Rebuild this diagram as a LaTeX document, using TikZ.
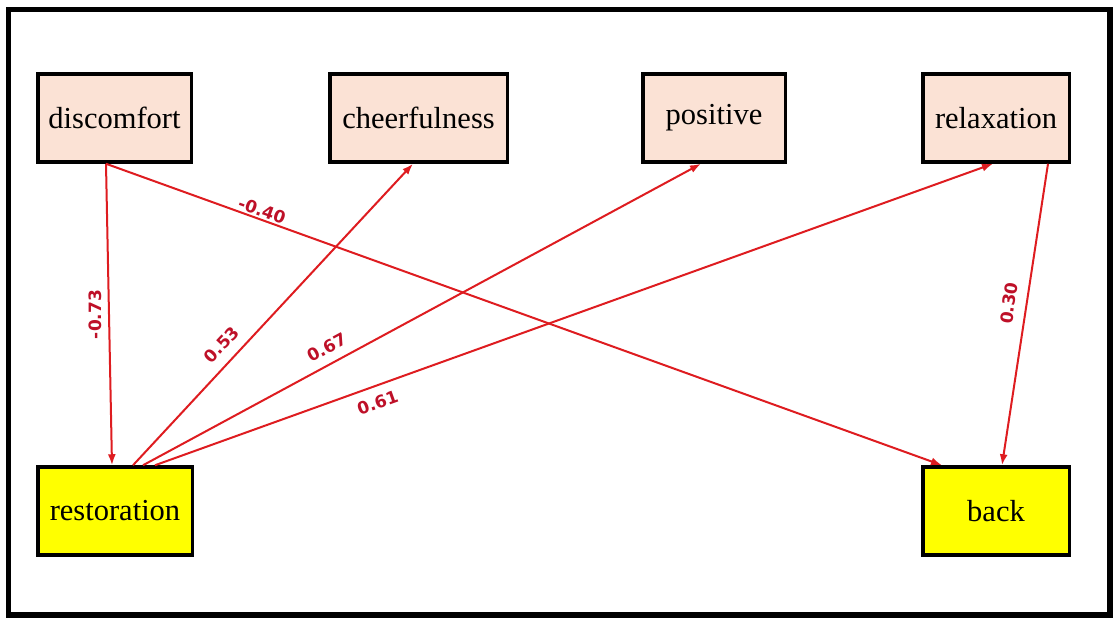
\documentclass[tikz,border=0pt]{standalone}
\usepackage{fontspec}
\setmainfont{Liberation Serif}
\newfontfamily\coeffont{DejaVu Sans}
\usetikzlibrary{arrows.meta}

\definecolor{peach}{RGB}{251,226,213}
\definecolor{hiyellow}{RGB}{255,255,0}
\definecolor{linkred}{RGB}{222,28,32}
\definecolor{coefred}{RGB}{190,16,40}

\begin{document}
\begin{tikzpicture}[x=1pt,y=-1pt,
  box/.style={draw=black, line width=3.5pt, inner sep=0pt, minimum height=88pt,
              font=\fontsize{30.5}{36}\selectfont},
  mood/.style={box, fill=peach},
  outcome/.style={box, fill=hiyellow},
  effect/.style={draw=linkred, line width=2pt, -{Latex[length=11pt,width=8pt]}},
  coef/.style={text=coefred, inner sep=1pt, font=\coeffont\bfseries\fontsize{17}{19}\selectfont}]

\useasboundingbox (0,0) rectangle (1117,619);

% outer frame
\draw[line width=5.5pt] (8.5,9.5) rectangle (1110,615);

% variables
\node[mood, minimum width=153.5pt] (disc)  at (114.5,118) {discomfort};
\node[mood, minimum width=177.5pt] (cheer) at (418.5,118) {cheerfulness};
\node[mood, minimum width=142.5pt] (posv)  at (714,118)   {positive};
\node[mood, minimum width=146.5pt] (relax) at (996,118)   {relaxation};
\node[outcome, minimum width=154.5pt] (rest) at (115,511) {restoration};
\node[outcome, minimum width=146.5pt] (back) at (996,511) {back};

% path coefficients
\draw[effect] ([xshift=-8.5pt]disc.south) --
  node[coef, pos=0.5, rotate=90, above=5pt] {-0.73} ([xshift=-3pt]rest.north);
\draw[effect] ([xshift=-8.5pt]disc.south) --
  node[coef, pos=0.183, sloped, above=0.5pt] {-0.40} ([xshift=21pt]back.north west);
\draw[effect] ([xshift=18pt]rest.north) --
  node[coef, pos=0.361, sloped, above=9pt] {0.53} ([xshift=-5.5pt]cheer.south);
\draw[effect] ([xshift=28pt]rest.north) --
  node[coef, pos=0.343, sloped, above=8pt] {0.67} ([xshift=-13pt]posv.south);
\draw[effect] ([xshift=40pt]rest.north) --
  node[coef, pos=0.259, sloped, below=8pt] {0.61} ([xshift=-3pt]relax.south);
\draw[effect] ([xshift=52pt]relax.south) --
  node[coef, pos=0.471, sloped, above=9pt] {0.30} ([xshift=6pt]back.north);
\end{tikzpicture}
\end{document}
